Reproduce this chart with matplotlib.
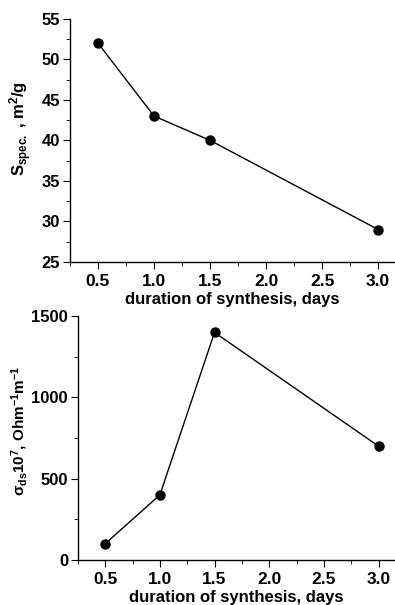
import matplotlib
matplotlib.use("Agg")
import matplotlib.pyplot as plt
from matplotlib.ticker import MultipleLocator, FixedLocator

# ── DATA ───────────────────────────────────────────────────
days = [0.5, 1.0, 1.5, 3.0]
s_spec = [52, 43, 40, 29]
sigma_ds = [100, 400, 1400, 700]
x_ticks = [0.5, 1.0, 1.5, 2.0, 2.5, 3.0]
x_label = "duration of synthesis, days"

# ── STYLE ──────────────────────────────────────────────────
plt.rcParams.update({
    "font.family": ["Liberation Sans", "DejaVu Sans"],
    "font.weight": "bold",
    "font.size": 12,
    "mathtext.fontset": "custom",
    "mathtext.rm": "Liberation Sans:bold",
    "mathtext.bf": "Liberation Sans:bold",
    "mathtext.it": "Liberation Sans:bold",
    "mathtext.sf": "Liberation Sans:bold",
    "mathtext.default": "bf",
    "axes.linewidth": 1.0,
    "xtick.direction": "out",
    "ytick.direction": "out",
    "xtick.major.size": 5,
    "ytick.major.size": 5,
    "xtick.minor.size": 3,
    "ytick.minor.size": 3,
    "ytick.major.pad": 2,
    "xtick.labelsize": 12.5,
    "ytick.labelsize": 12,
})


def style_axes(ax, ylim, ymajor, yminor):
    ax.set_xlim(0.25, 3.15)
    ax.set_ylim(*ylim)
    ax.xaxis.set_major_locator(FixedLocator(x_ticks))
    ax.xaxis.set_minor_locator(MultipleLocator(0.25))
    ax.yaxis.set_major_locator(MultipleLocator(ymajor))
    ax.yaxis.set_minor_locator(MultipleLocator(yminor))
    ax.spines["top"].set_visible(False)
    ax.spines["right"].set_visible(False)
    ax.set_xlabel(x_label, fontsize=12, fontweight="bold", labelpad=2)


fig = plt.figure(figsize=(3.95, 6.05), dpi=100)

# ── TOP: specific surface ──────────────────────────────────
ax1 = fig.add_axes([0.177, 0.567, 0.823, 0.402])
ax1.plot(days, s_spec, color="black", lw=1.0, marker="o", ms=6.5,
         mfc="black", mec="black")
style_axes(ax1, (25, 55), 5, 2.5)
ax1.set_ylabel("S$_{spec.}$ , m$^2$/g", fontsize=12, fontweight="bold")
ax1.yaxis.set_label_coords(-0.11, 0.55)

# ── BOTTOM: conductivity ───────────────────────────────────
ax2 = fig.add_axes([0.197, 0.0744, 0.803, 0.403])
ax2.plot(days, sigma_ds, color="black", lw=1.0, marker="o", ms=6.5,
         mfc="black", mec="black")
style_axes(ax2, (0, 1500), 500, 250)
ax2.set_ylabel("σ$_{ds}$10$^7$, Ohm$^{-1}$m$^{-1}$", fontsize=11,
               fontweight="bold")
ax2.yaxis.set_label_coords(-0.15, 0.53)

fig.canvas.draw()
for ax in (ax1, ax2):
    for lbl in ax.get_xticklabels() + ax.get_yticklabels():
        lbl.set_fontweight("bold")

fig.savefig("out.png", dpi=100)
